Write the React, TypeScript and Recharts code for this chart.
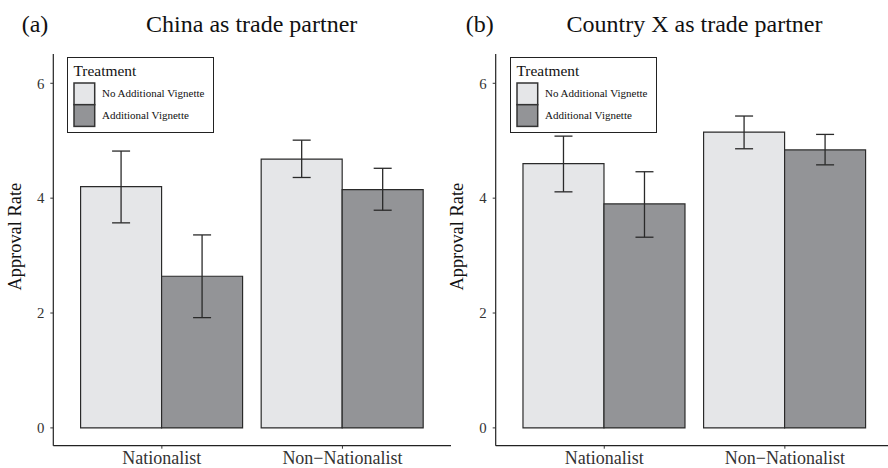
import { BarChart, Bar, XAxis, YAxis, ErrorBar, Legend } from 'recharts';

const categories = ['Nationalist', 'Non\u2212Nationalist'];
const seriesNames = ['No Additional Vignette', 'Additional Vignette'];
const yTicks = [0, 2, 4, 6];

// Panel (a): China
const chinaNoAdd = [4.2, 4.68];
const chinaNoAddLow = [3.57, 4.36];
const chinaNoAddHigh = [4.82, 5.01];
const chinaAdd = [2.64, 4.15];
const chinaAddLow = [1.92, 3.79];
const chinaAddHigh = [3.36, 4.52];

// Panel (b): Country X
const xNoAdd = [4.6, 5.15];
const xNoAddLow = [4.11, 4.86];
const xNoAddHigh = [5.08, 5.43];
const xAdd = [3.9, 4.84];
const xAddLow = [3.32, 4.58];
const xAddHigh = [4.46, 5.11];

const SERIF = '"Liberation Serif", "DejaVu Serif", serif';
const LIGHT = '#e5e6e8';
const DARK = '#939497';

function makeRows(noAdd, noAddLow, noAddHigh, add, addLow, addHigh) {
  return categories.map((name, i) => ({
    name,
    noAdd: noAdd[i],
    add: add[i],
    noAddErr: [noAdd[i] - noAddLow[i], noAddHigh[i] - noAdd[i]],
    addErr: [add[i] - addLow[i], addHigh[i] - add[i]],
  }));
}

const renderLegend = (props) => {
  const payload = [...(props.payload || [])].sort(
    (a, b) => seriesNames.indexOf(a.value) - seriesNames.indexOf(b.value)
  );
  return (
    <svg width={147} height={76} style={{ display: 'block' }}>
      <rect x={0.5} y={0.5} width={146} height={75} fill="#fff" stroke="#222" strokeWidth={1} />
      <text x={6.5} y={18.7} fontFamily={SERIF} fontSize={15.4} fill="#111">
        Treatment
      </text>
      {payload.map((entry, i) => (
        <g key={`leg-${i}`}>
          <rect
            x={7}
            y={26 + i * 21.7}
            width={20.7}
            height={21.7}
            fill={entry.color}
            stroke="#333"
            strokeWidth={1.5}
          />
          <text x={35} y={40.4 + i * 21.7} fontFamily={SERIF} fontSize={11} fill="#111">
            {entry.value}
          </text>
        </g>
      ))}
    </svg>
  );
};

function Panel({ rows, left, axisLeft, marginRight, tag, title, titleX, yLabelX, legendLeft }) {
  const W = 460;
  const H = 468;
  return (
    <div style={{ position: 'absolute', left, top: 0, width: W, height: H }}>
      <BarChart
        width={W}
        height={H}
        data={rows}
        margin={{ top: 54, right: marginRight, bottom: 0, left: 0 }}
        barCategoryGap="5%"
        barGap={0}
      >
        <XAxis
          dataKey="name"
          height={22.3}
          padding={{ left: 18.25, right: 18.25 }}
          axisLine={{ stroke: '#222', strokeWidth: 1.2 }}
          tickLine={{ stroke: '#333' }}
          tickSize={3}
          tickMargin={3}
          tick={{ fontFamily: SERIF, fontSize: 18, fill: '#333' }}
          interval={0}
        />
        <YAxis
          width={axisLeft}
          domain={[-0.31, 6.51]}
          ticks={yTicks}
          allowDataOverflow
          axisLine={{ stroke: '#222', strokeWidth: 1.2 }}
          tickLine={{ stroke: '#333' }}
          tickSize={3}
          tickMargin={6}
          tick={{ fontFamily: SERIF, fontSize: 14.8, fill: '#333' }}
        />
        <Legend
          layout="horizontal"
          align="center"
          verticalAlign="middle"
          content={renderLegend}
          wrapperStyle={{ left: legendLeft, top: 57.3, width: 147, height: 76 }}
        />
        <Bar
          dataKey="noAdd"
          name={seriesNames[0]}
          fill={LIGHT}
          stroke="#2a2a2a"
          strokeWidth={1.2}
          isAnimationActive={false}
        >
          <ErrorBar dataKey="noAddErr" width={9} stroke="#2a2a2a" strokeWidth={1.3} />
        </Bar>
        <Bar
          dataKey="add"
          name={seriesNames[1]}
          fill={DARK}
          stroke="#2a2a2a"
          strokeWidth={1.2}
          isAnimationActive={false}
        >
          <ErrorBar dataKey="addErr" width={9} stroke="#2a2a2a" strokeWidth={1.3} />
        </Bar>
      </BarChart>
      <svg
        width={W}
        height={H}
        style={{ position: 'absolute', left: 0, top: 0, pointerEvents: 'none' }}
      >
        <text x={21.7} y={32} fontFamily={SERIF} fontSize={24} fill="#111">
          {tag}
        </text>
        <text x={titleX} y={32} fontFamily={SERIF} fontSize={24} fill="#111" textAnchor="middle">
          {title}
        </text>
        <text
          x={yLabelX}
          y={236.7}
          fontFamily={SERIF}
          fontSize={18.4}
          fill="#111"
          textAnchor="middle"
          transform={`rotate(-90 ${yLabelX} 236.7)`}
        >
          Approval Rate
        </text>
      </svg>
    </div>
  );
}

export default function App() {
  const chinaRows = makeRows(chinaNoAdd, chinaNoAddLow, chinaNoAddHigh, chinaAdd, chinaAddLow, chinaAddHigh);
  const xRows = makeRows(xNoAdd, xNoAddLow, xNoAddHigh, xAdd, xAddLow, xAddHigh);
  return (
    <div
      style={{
        position: 'absolute',
        left: 0,
        top: 0,
        width: 888,
        height: 468,
        overflow: 'hidden',
        background: '#fff',
      }}
    >
      <Panel
        rows={chinaRows}
        left={0}
        axisLeft={53.3}
        marginRight={9}
        tag="(a)"
        title="China as trade partner"
        titleX={251.7}
        yLabelX={21.5}
        legendLeft={67.3}
      />
      <Panel
        rows={xRows}
        left={444}
        axisLeft={51.7}
        marginRight={10.6}
        tag="(b)"
        title="Country X as trade partner"
        titleX={250.5}
        yLabelX={18.8}
        legendLeft={66.3}
      />
    </div>
  );
}
